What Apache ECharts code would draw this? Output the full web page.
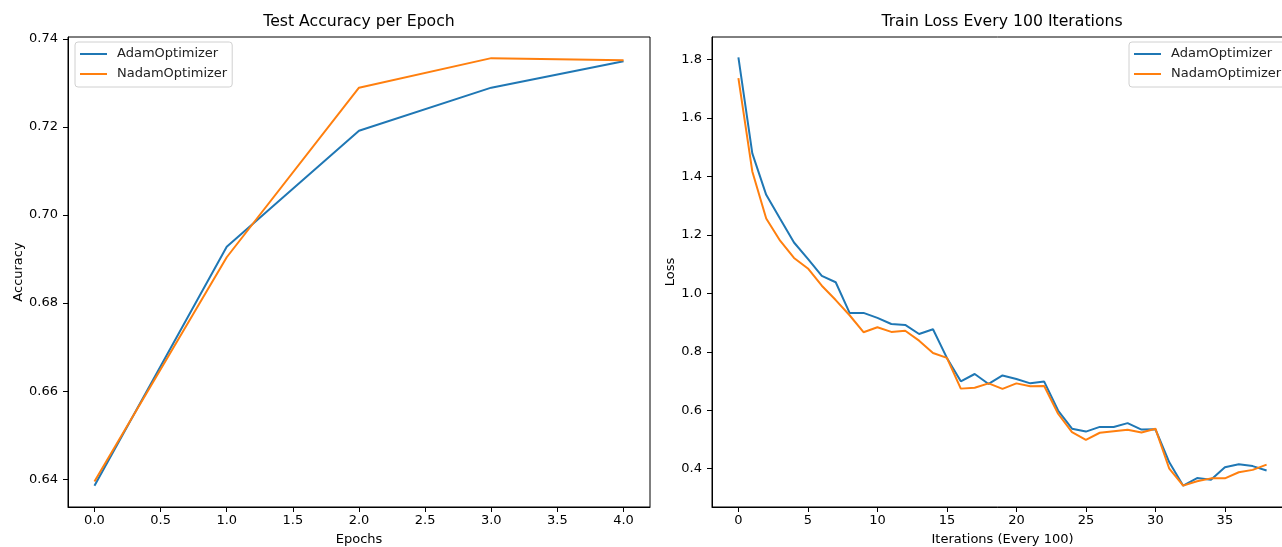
<!DOCTYPE html>
<html>
<head>
<meta charset="utf-8">
<script src="https://cdn.jsdelivr.net/npm/echarts@6/dist/echarts.min.js"></script>
<style>
html, body { margin: 0; padding: 0; background: #fff; }
#main { width: 1282px; height: 547px; }
</style>
</head>
<body>
<div id="main"></div>
<script>
// data
var seriesNames = ['AdamOptimizer', 'NadamOptimizer'];
var colors = ['#1f77b4', '#ff7f0e'];

var epochs = [0, 1, 2, 3, 4];
var adamAcc = [0.6385, 0.6928, 0.7191, 0.7289, 0.7349];
var nadamAcc = [0.6395, 0.6904, 0.7289, 0.7356, 0.7351];

var iterations = [0, 1, 2, 3, 4, 5, 6, 7, 8, 9, 10, 11, 12, 13, 14, 15, 16, 17, 18, 19,
  20, 21, 22, 23, 24, 25, 26, 27, 28, 29, 30, 31, 32, 33, 34, 35, 36, 37, 38];
var adamLoss = [1.807, 1.479, 1.337, 1.255, 1.174, 1.118, 1.060, 1.038, 0.933, 0.933,
  0.916, 0.895, 0.892, 0.861, 0.877, 0.779, 0.699, 0.724, 0.690, 0.719,
  0.707, 0.692, 0.698, 0.599, 0.537, 0.527, 0.543, 0.543, 0.556, 0.534,
  0.535, 0.422, 0.342, 0.368, 0.362, 0.405, 0.415, 0.409, 0.394];
var nadamLoss = [1.736, 1.417, 1.256, 1.180, 1.121, 1.085, 1.026, 0.977, 0.925, 0.867,
  0.884, 0.868, 0.872, 0.838, 0.796, 0.779, 0.674, 0.677, 0.692, 0.673,
  0.692, 0.682, 0.683, 0.588, 0.525, 0.499, 0.523, 0.528, 0.533, 0.524,
  0.537, 0.400, 0.342, 0.357, 0.367, 0.367, 0.388, 0.396, 0.414];

var epochTicks = [0, 0.5, 1, 1.5, 2, 2.5, 3, 3.5, 4];
var accTicks = [0.64, 0.66, 0.68, 0.70, 0.72, 0.74];
var iterTicks = [0, 5, 10, 15, 20, 25, 30, 35];
var lossTicks = [0.4, 0.6, 0.8, 1.0, 1.2, 1.4, 1.6, 1.8];

var FONT = 'DejaVu Sans';

function pairs(xs, ys) {
  return xs.map(function (x, i) { return [x, ys[i]]; });
}

function axis(gridIndex, min, max, ticks, digits, name, nameGap, vertical) {
  return {
    type: 'value',
    gridIndex: gridIndex,
    min: min,
    max: max,
    name: name,
    nameLocation: 'middle',
    nameGap: nameGap,
    nameTextStyle: { color: '#000', fontSize: 13, fontFamily: FONT },
    axisLine: { show: true, onZero: false, lineStyle: { color: '#000', width: 1 } },
    axisTick: { show: true, length: 5, customValues: ticks, lineStyle: { color: '#000', width: 1 } },
    axisLabel: {
      customValues: ticks,
      color: '#000',
      fontSize: 13,
      fontFamily: FONT,
      margin: vertical ? 10 : 7,
      formatter: function (v) { return v.toFixed(digits); }
    },
    splitLine: { show: false }
  };
}

function legend(left) {
  return {
    data: seriesNames,
    orient: 'vertical',
    left: left,
    top: 42,
    icon: 'rect',
    itemWidth: 27,
    itemHeight: 2,
    itemGap: 4,
    padding: [4, 5, 5, 5],
    borderColor: '#d0d0d0',
    borderWidth: 1,
    borderRadius: 3,
    backgroundColor: 'rgba(255,255,255,0.8)',
    textStyle: { color: '#222', fontSize: 13, fontFamily: FONT, lineHeight: 16, padding: [0, 0, 0, 5] }
  };
}

function line(name, color, xAxisIndex, data) {
  return {
    name: name,
    type: 'line',
    xAxisIndex: xAxisIndex,
    yAxisIndex: xAxisIndex,
    data: data,
    showSymbol: false,
    symbol: 'none',
    lineStyle: { color: color, width: 2 },
    itemStyle: { color: color }
  };
}

var chart = echarts.init(document.getElementById('main'));
chart.setOption({
  animation: false,
  textStyle: { fontFamily: FONT },
  title: [
    { text: 'Test Accuracy per Epoch', left: 359, top: 14, textAlign: 'center', padding: 0,
      textStyle: { color: '#000', fontSize: 15.7, fontWeight: 'normal', fontFamily: FONT } },
    { text: 'Train Loss Every 100 Iterations', left: 1002, top: 14, textAlign: 'center', padding: 0,
      textStyle: { color: '#000', fontSize: 15.7, fontWeight: 'normal', fontFamily: FONT } }
  ],
  legend: [legend(75), legend(1129)],
  grid: [
    { left: 68, top: 37, width: 582, height: 470, show: true, borderColor: '#000', borderWidth: 1,
      containLabel: false, outerBoundsMode: 'none' },
    { left: 712, top: 37, width: 581, height: 470, show: true, borderColor: '#000', borderWidth: 1,
      containLabel: false, outerBoundsMode: 'none' }
  ],
  xAxis: [
    axis(0, -0.2, 4.2, epochTicks, 1, 'Epochs', 26, false),
    axis(1, -1.9, 39.9, iterTicks, 0, 'Iterations (Every 100)', 26, false)
  ],
  yAxis: [
    axis(0, 0.6337, 0.7404, accTicks, 2, 'Accuracy', 42, true),
    axis(1, 0.269, 1.877, lossTicks, 1, 'Loss', 34, true)
  ],
  series: [
    line(seriesNames[0], colors[0], 0, pairs(epochs, adamAcc)),
    line(seriesNames[1], colors[1], 0, pairs(epochs, nadamAcc)),
    line(seriesNames[0], colors[0], 1, pairs(iterations, adamLoss)),
    line(seriesNames[1], colors[1], 1, pairs(iterations, nadamLoss))
  ]
});
</script>
</body>
</html>
